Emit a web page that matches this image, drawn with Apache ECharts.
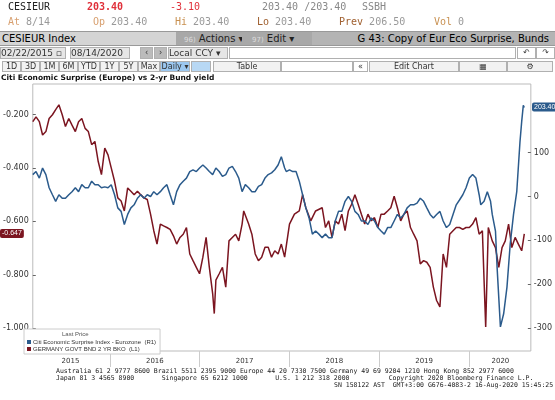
<!DOCTYPE html>
<html>
<head>
<meta charset="utf-8">
<script src="https://cdn.jsdelivr.net/npm/echarts@6/dist/echarts.min.js"></script>
<style>
  body { margin: 0; width: 555px; height: 400px; overflow: hidden; background: #fff;
         font-family: "DejaVu Sans Mono", monospace; position: relative; }
  #chart { position: absolute; left: 0; top: 0; width: 555px; height: 400px;
           background-image: radial-gradient(#e4e4e4 0.6px, transparent 0.7px); background-size: 8px 8px; }
  .t { position: absolute; white-space: nowrap; font-size: 10px; }
  .bar { position: absolute; left: 0; width: 555px; }
  .btn { position: absolute; top: 0; height: 11px; border: 1px solid #b0b0b0; background: #f2f2f2; overflow: hidden;
         font: 8px "DejaVu Sans"; color: #333; text-align: center; line-height: 10px; box-sizing: border-box; }
  .foot { position: absolute; left: 56px; font: 6.5px "DejaVu Sans Mono"; color: #222; white-space: pre; line-height: 7px; }
</style>
</head>
<body>
<div id="chart"></div>
<div class="t" style="left:8px;top:1px;color:#222">CESIEUR</div>
<div class="t" style="left:87px;top:1px;color:#e0303a;font-weight:bold">203.40</div>
<div class="t" style="left:170px;top:1px;color:#e0303a">-3.10</div>
<div class="t" style="left:262px;top:1px;color:#888">203.40 /203.40</div>
<div class="t" style="left:362px;top:1px;color:#888">SSBH</div>
<div class="t" style="left:8px;top:16px;color:#d8a070">At <span style="color:#999">8/14</span></div>
<div class="t" style="left:93px;top:16px;color:#d8a070">Op <span style="color:#999">203.40</span></div>
<div class="t" style="left:175px;top:16px;color:#c89050">Hi <span style="color:#999">203.40</span></div>
<div class="t" style="left:257px;top:16px;color:#a06030">Lo <span style="color:#999">203.40</span></div>
<div class="t" style="left:339px;top:16px;color:#a06030">Prev <span style="color:#999">206.50</span></div>
<div class="t" style="left:434px;top:16px;color:#c89050">Vol <span style="color:#999">0</span></div>

<div class="bar" style="top:31px;height:13px;background:#c4c4c4;border-top:1px solid #999;border-bottom:1px solid #999;font:10px 'DejaVu Sans';line-height:13px">
  <div style="position:absolute;left:0;width:175px;height:13px;background:#d4d4d4;border-right:1px solid #777;padding-left:2px">CESIEUR Index</div>
  <div style="position:absolute;left:176px;width:64px;height:13px;background:#a8a8a8;color:#222;padding-left:8px"><span style="color:#ddd;font-size:7px">96)</span> Actions ▾</div>
  <div style="position:absolute;left:242px;width:68px;height:13px;background:#a8a8a8;color:#222;padding-left:10px"><span style="color:#ddd;font-size:7px">97)</span> Edit ▾</div>
  <div style="position:absolute;left:312px;right:0;height:13px;background:#b4b4b4;text-align:right;padding-right:6px">G 43: Copy of Eur Eco Surprise, Bunds</div>
</div>
<div class="bar" style="top:47px;height:12px">
  <div class="btn" style="left:0;width:66px;height:12px;font:9px 'DejaVu Sans';text-align:left;background:#e6e6e6">02/22/2015 ▫</div>
  <div class="btn" style="left:70px;width:60px;height:12px;font:9px 'DejaVu Sans';text-align:left;background:#e6e6e6">08/14/2020 ▫</div>
  <div class="btn" style="left:140px;width:13px;height:12px;background:#bbb">‹</div>
  <div class="btn" style="left:154px;width:13px;height:12px;background:#bbb">›</div>
  <div class="btn" style="left:168px;width:60px;height:12px;font:9px 'DejaVu Sans';text-align:left;background:#e6e6e6">Local CCY ▾</div>
  <div class="btn" style="left:229px;width:287px;height:12px;background:#fff"></div>
  <div class="btn" style="left:517px;width:19px;height:12px;background:#fff">↶</div>
  <div class="btn" style="left:536px;width:19px;height:12px;background:#fff">↷</div>
</div>
<div class="bar" style="top:61px;height:11px">
  <div class="btn" style="left:2px;width:19px">1D</div>
  <div class="btn" style="left:21px;width:19px">3D</div>
  <div class="btn" style="left:40px;width:19px">1M</div>
  <div class="btn" style="left:59px;width:19px">6M</div>
  <div class="btn" style="left:78px;width:22px">YTD</div>
  <div class="btn" style="left:100px;width:19px">1Y</div>
  <div class="btn" style="left:119px;width:19px">5Y</div>
  <div class="btn" style="left:138px;width:22px">Max</div>
  <div class="btn" style="left:160px;width:30px;background:#9cc8f0">Daily ▾</div>
  <div class="btn" style="left:191px;width:20px;background:#b8d8f4"></div>
  <div class="btn" style="left:213px;width:68px">Table</div>
  <div class="btn" style="left:281px;width:72px;background:#fff"></div>
  <div class="btn" style="left:353px;width:15px;background:#fff">«</div>
  <div class="btn" style="left:369px;width:90px">Edit Chart</div>
  <div class="btn" style="left:459px;width:48px">▦</div>
  <div class="btn" style="left:507px;width:46px">⚙</div>
</div>
<div class="t" style="left:1px;top:73px;font:bold 7.5px 'DejaVu Sans';color:#111">Citi Economic Surprise (Europe) vs 2-yr Bund yield</div>

<div class="foot" style="top:368px">Australia 61 2 9777 8600 Brazil 5511 2395 9000 Europe 44 20 7330 7500 Germany 49 69 9204 1210 Hong Kong 852 2977 6000
Japan 81 3 4565 8900       Singapore 65 6212 1000       U.S. 1 212 318 2000          Copyright 2020 Bloomberg Finance L.P.</div>
<div class="foot" style="top:382px;left:334px">SN 158122 AST  GMT+3:00 G676-4083-2 16-Aug-2020 15:45:25</div>

<script>
var redYears = [2015.140,2015.176,2015.213,2015.249,2015.286,2015.322,2015.359,2015.395,2015.431,2015.468,
  2015.504,2015.541,2015.577,2015.614,2015.650,2015.686,2015.723,2015.759,2015.796,2015.832,
  2015.869,2015.905,2015.942,2015.978,2016.014,2016.051,2016.087,2016.124,2016.160,2016.197,
  2016.233,2016.269,2016.306,2016.342,2016.379,2016.415,2016.452,2016.488,2016.524,2016.561,
  2016.597,2016.634,2016.670,2016.707,2016.743,2016.780,2016.816,2016.852,2016.889,2016.925,
  2016.962,2016.998,2017.035,2017.071,2017.107,2017.144,2017.162,2017.180,2017.217,2017.253,
  2017.290,2017.326,2017.363,2017.399,2017.435,2017.472,2017.490,2017.545,2017.581,2017.618,
  2017.654,2017.690,2017.727,2017.763,2017.800,2017.836,2017.873,2017.909,2017.946,
  2018.000,2018.055,2018.109,2018.146,2018.182,2018.237,2018.291,2018.364,2018.401,2018.437,
  2018.474,2018.510,2018.546,2018.583,2018.619,2018.656,2018.692,2018.729,2018.765,2018.801,
  2018.838,2018.874,2018.911,2018.947,2018.984,2019.020,2019.056,2019.093,2019.129,2019.166,
  2019.202,2019.239,2019.275,2019.311,2019.348,2019.384,2019.421,2019.457,2019.494,2019.530,
  2019.567,2019.603,2019.639,2019.676,2019.712,2019.749,2019.785,2019.822,2019.858,2019.894,
  2019.931,2019.967,2020.004,2020.040,2020.077,2020.113,2020.149,2020.168,2020.186,2020.215,
  2020.259,2020.295,2020.332,2020.368,2020.404,2020.441,2020.477,2020.514,2020.550,2020.587,2020.616];
var redVals = [-0.227,-0.209,-0.227,-0.277,-0.264,-0.215,-0.201,-0.182,-0.164,-0.201,
  -0.245,-0.215,-0.240,-0.264,-0.227,-0.215,-0.252,-0.264,-0.313,-0.301,
  -0.376,-0.425,-0.326,-0.351,-0.400,-0.450,-0.512,-0.524,-0.561,-0.475,
  -0.487,-0.500,-0.487,-0.500,-0.512,-0.518,-0.573,-0.635,-0.685,-0.610,
  -0.617,-0.623,-0.630,-0.654,-0.685,-0.660,-0.648,-0.623,-0.722,-0.747,
  -0.772,-0.796,-0.734,-0.660,-0.772,-0.870,-0.945,-0.820,-0.796,-0.772,
  -0.846,-0.673,-0.660,-0.648,-0.673,-0.610,-0.561,-0.610,-0.648,-0.722,
  -0.747,-0.734,-0.697,-0.697,-0.734,-0.710,-0.722,-0.685,-0.734,
  -0.610,-0.573,-0.561,-0.500,-0.549,-0.598,-0.561,-0.549,-0.623,-0.598,
  -0.660,-0.598,-0.610,-0.573,-0.635,-0.561,-0.536,-0.500,-0.536,-0.573,
  -0.610,-0.573,-0.598,-0.586,-0.623,-0.573,-0.573,-0.561,-0.549,-0.506,
  -0.549,-0.598,-0.573,-0.561,-0.623,-0.648,-0.673,-0.759,-0.747,-0.753,
  -0.772,-0.846,-0.896,-0.920,-0.722,-0.772,-0.648,-0.635,-0.623,-0.623,
  -0.630,-0.623,-0.623,-0.610,-0.586,-0.648,-0.635,-0.822,-0.995,-0.623,
  -0.673,-0.698,-0.772,-0.698,-0.673,-0.610,-0.698,-0.660,-0.685,-0.710,-0.647];

var blueYears = [2015.140,2015.176,2015.213,2015.249,2015.286,2015.322,2015.359,2015.395,2015.431,2015.468,
  2015.504,2015.541,2015.577,2015.614,2015.650,2015.686,2015.723,2015.759,2015.796,2015.832,
  2015.869,2015.905,2015.942,2015.978,2016.014,2016.051,2016.087,2016.124,2016.160,2016.197,
  2016.233,2016.269,2016.306,2016.342,2016.379,2016.415,2016.452,2016.488,2016.524,2016.561,
  2016.597,2016.634,2016.670,2016.707,2016.743,2016.780,2016.816,2016.852,2016.889,2016.925,
  2016.962,2016.998,2017.035,2017.071,2017.107,2017.144,2017.180,2017.217,2017.253,2017.290,
  2017.326,2017.363,2017.399,2017.435,2017.472,2017.508,2017.545,2017.581,2017.618,2017.654,
  2017.690,2017.727,2017.763,2017.800,2017.836,2017.873,2017.909,2017.946,
  2017.964,2018.000,2018.036,2018.073,2018.109,2018.146,2018.182,2018.218,2018.255,2018.291,
  2018.328,2018.364,2018.401,2018.437,2018.474,2018.510,2018.546,2018.583,2018.619,2018.656,
  2018.692,2018.729,2018.765,2018.801,2018.838,2018.874,2018.911,2018.947,2018.984,2019.020,
  2019.056,2019.093,2019.129,2019.166,2019.202,2019.239,2019.275,2019.311,2019.348,2019.384,
  2019.421,2019.457,2019.494,2019.530,2019.567,2019.603,2019.639,2019.676,2019.712,2019.749,
  2019.785,2019.822,2019.858,2019.894,2019.931,2019.967,2020.004,2020.040,2020.077,2020.113,
  2020.131,2020.168,2020.204,2020.240,2020.259,2020.295,2020.313,2020.350,2020.386,2020.423,
  2020.459,2020.496,2020.532,2020.568,2020.587,2020.605,2020.616];
var blueVals = [50,57,42,65,50,20,4,-11,4,-4,
  -4,4,11,20,11,27,20,20,35,27,
  27,20,22,20,27,4,-26,-34,-64,-41,
  -26,-19,-4,4,-4,4,0,11,4,11,
  20,27,4,-19,11,27,35,42,57,61,
  57,65,72,65,57,50,65,57,46,50,
  65,69,57,42,11,27,20,11,11,23,
  27,42,50,54,61,72,91,65,
  57,61,57,57,35,4,-26,-49,-86,-79,
  -86,-94,-86,-94,-94,-56,-34,-34,-11,0,
  -11,-34,-41,-56,-56,-64,-49,-56,-71,-79,
  -86,-71,-71,-56,-41,-49,-41,-26,-19,-19,
  -15,-4,-11,-26,-41,-49,-41,-34,-56,-71,
  -64,-41,-19,-8,4,20,42,50,42,4,
  -19,-11,11,-11,-41,-79,-162,-298,-268,-207,
  -109,-41,11,125,171,208,203.4];

var leftTicks = [-1.0, -0.8, -0.6, -0.4, -0.2];
var rightTicks = [-300, -200, -100, 0, 100];
var yearTicks = [2016, 2017, 2018, 2019, 2020];
var yearLabelPos = [2015.56, 2016.5, 2017.5, 2018.5, 2019.5, 2020.35];
var xMin = 2015.14, xMax = 2020.689;

var redName = 'GERMANY GOVT BND 2 YR BKO  (L1)';
var blueName = 'Citi Economic Surprise Index - Eurozone  (R1)';
var RED = '#7b1520', BLUE = '#2b5b8c';

function zip(xs, ys) { return xs.map(function (x, i) { return [x, ys[i]]; }); }

var myChart = echarts.init(document.getElementById('chart'));
var axisText = { fontSize: 8, color: '#333', fontFamily: 'DejaVu Sans' };
myChart.setOption({
  animation: false,
  grid: { left: 23, right: 24, top: 84, bottom: 49, show: true, borderColor: '#bbb', borderWidth: 1 },
  legend: {
    orient: 'vertical', left: 24, top: 329, padding: [10, 4, 2, 3], itemGap: 1,
    itemWidth: 4, itemHeight: 4, icon: 'rect', backgroundColor: '#fff', borderColor: '#ccc', borderWidth: 1,
    textStyle: { fontSize: 6, color: '#333', padding: [0, 0, 0, -3] },
    data: [blueName, redName]
  },
  xAxis: {
    type: 'value', min: xMin, max: xMax,
    axisLine: { show: false, onZero: false }, splitLine: { show: false },
    axisTick: { show: true, customValues: yearTicks, length: 16, lineStyle: { color: '#ccc' } },
    axisLabel: { customValues: yearLabelPos, formatter: function (v) { return Math.floor(v); },
      margin: 7, fontSize: 7, color: '#333', fontFamily: 'DejaVu Sans' }
  },
  yAxis: [{
    type: 'value', min: -1.085, max: -0.086, position: 'left',
    axisLine: { show: false }, splitLine: { show: false },
    axisTick: { show: true, inside: true, customValues: leftTicks, length: 3, lineStyle: { color: '#666' } },
    axisLabel: Object.assign({ customValues: leftTicks, margin: 4,
      formatter: function (v) { return v.toFixed(3); } }, axisText)
  }, {
    type: 'value', min: -353, max: 257, position: 'right',
    axisLine: { show: false }, splitLine: { show: false },
    axisTick: { show: true, inside: true, customValues: rightTicks, length: 3, lineStyle: { color: '#666' } },
    axisLabel: Object.assign({ customValues: rightTicks, margin: 3 }, axisText)
  }],
  series: [{
    name: redName, type: 'line', yAxisIndex: 0, data: zip(redYears, redVals),
    showSymbol: false, lineStyle: { color: RED, width: 1.5 }, itemStyle: { color: RED }
  }, {
    name: blueName, type: 'line', yAxisIndex: 1, data: zip(blueYears, blueVals),
    showSymbol: false, lineStyle: { color: BLUE, width: 1.5 }, itemStyle: { color: BLUE }
  }]
});

// last-price tags on the axes, placed through the chart's own scales
var redLast = redVals[redVals.length - 1], blueLast = blueVals[blueVals.length - 1];
var redY = myChart.convertToPixel({ yAxisIndex: 0 }, redLast);
var blueY = myChart.convertToPixel({ yAxisIndex: 1 }, blueLast);
function tag(x, y, text, color) {
  return { type: 'text', x: x, y: y - 5, z: 100,
    style: { text: text, fill: '#fff', backgroundColor: color, fontSize: 7, padding: [1, 2], borderRadius: 2 } };
}
myChart.setOption({ graphic: [
  tag(0, redY, redLast.toFixed(3), RED),
  tag(532, blueY, blueLast.toFixed(2), BLUE),
  { type: 'text', x: 62, y: 331, z: 100, style: { text: 'Last Price', fontSize: 6, fill: '#555' } }
] });
</script>
</body>
</html>
